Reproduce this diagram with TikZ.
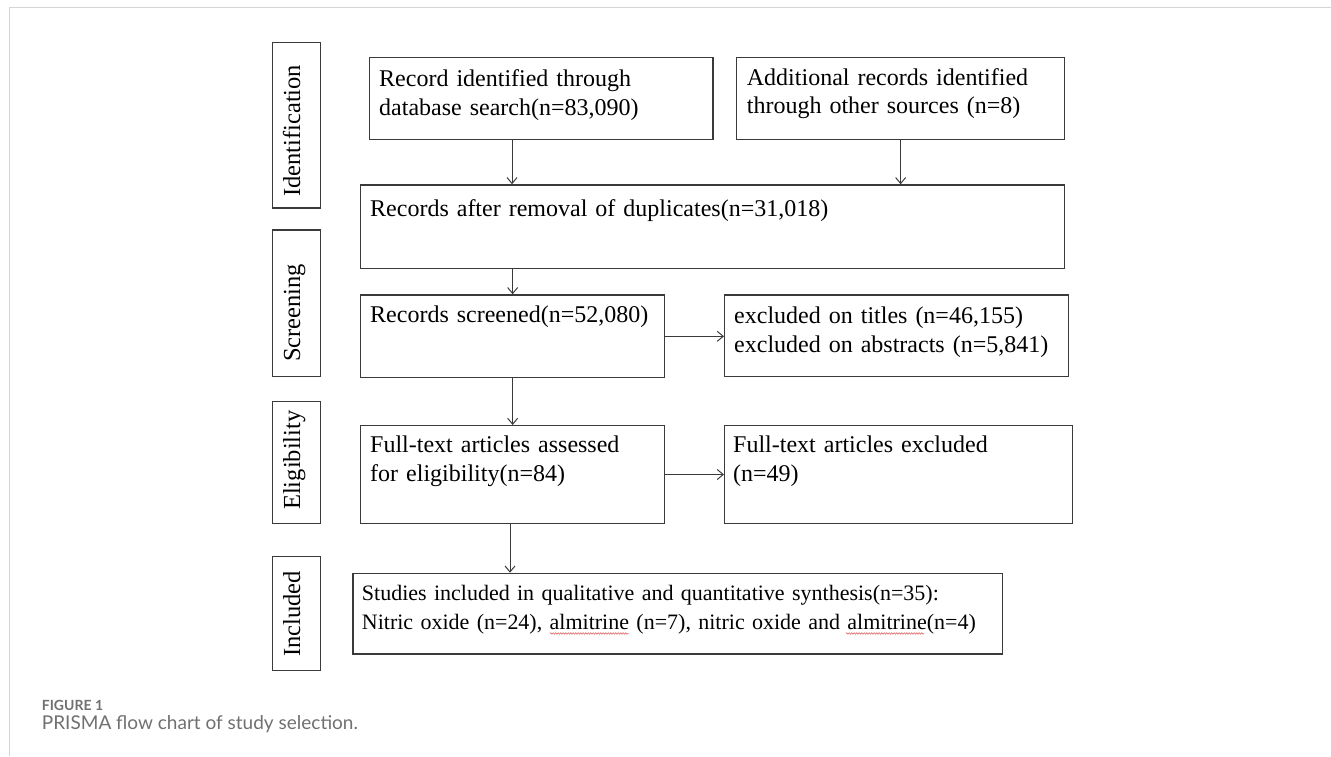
\documentclass[tikz,border=0pt]{standalone}
\usepackage{fontspec}
\setmainfont{Liberation Serif}
\newfontfamily\capfont{Lato}
\usetikzlibrary{arrows.meta,calc,decorations.pathmorphing}
\definecolor{boxline}{HTML}{3A3A3A}
\definecolor{framec}{HTML}{D4D4D4}
\definecolor{capgray}{HTML}{707070}
\definecolor{squig}{HTML}{E05050}
\tikzset{
  box/.style={draw=boxline, line width=1.3pt, rectangle, inner sep=0pt},
  txt/.style={inner sep=0pt, anchor=base west, text width=700pt, align=left,
              font=\fontsize{24}{28.6}\selectfont, text=black},
  stagetxt/.style={inner sep=0pt, anchor=base west, rotate=90,
              font=\fontsize{24.5}{28.6}\selectfont, text=black},
  arr/.style={draw=boxline, line width=1pt, -{Straight Barb[length=6pt,width=10pt]}},
  wave/.style={draw=squig, line width=0.5pt, decorate,
              decoration={snake, amplitude=0.8pt, segment length=2.5pt}},
}
\newcommand\boxat[3]{% name, nw, se
  \path let \p1=#2, \p2=#3 in node[box, anchor=north west,
     minimum width=\x2-\x1, minimum height=\y1-\y2] (#1) at (\p1) {};}
\begin{document}
\begin{tikzpicture}[x=1pt,y=-1pt]
\useasboundingbox (0,0) rectangle (1331,756);
% outer frame
\draw[framec, line width=1.5pt] (9.5,756) -- (9.5,7.5) -- (1331,7.5);

% stage boxes
\boxat{S1}{(272,41.7)}{(320,207.3)}
\boxat{S2}{(272,229.3)}{(320,376)}
\boxat{S3}{(272,400.7)}{(320,523)}
\boxat{S4}{(272,556)}{(320,670)}
\node[stagetxt] (s1) at (300,197) {Identification};
\node[stagetxt] (s2) at (300,362) {Screening};
\node[stagetxt] (s3) at (300,510) {Eligibility};
\node[stagetxt] (s4) at (300,657) {Included};

% flow boxes
\boxat{A}{(369,56.7)}{(712.3,139)}
\boxat{B}{(736,56.7)}{(1064,139)}
\boxat{C}{(360,184.3)}{(1064,267.7)}
\boxat{D}{(360,294.3)}{(664,377)}
\boxat{E}{(724,294.3)}{(1068,376)}
\boxat{F}{(360,425)}{(664,522.7)}
\boxat{G}{(724,425)}{(1071.7,522.7)}
\boxat{H}{(352.3,572.7)}{(1001.7,653.3)}

\node[txt] (tA) at (379,86.7) {Record identified through\\database search(n=83,090)};
\node[txt] (tB) at (746.7,85) {Additional records identified\\through other sources (n=8)};
\node[txt] (tC) at (370,216.3) {Records after removal of duplicates(n=31,018)};
\node[txt] (tD) at (370,322.7) {Records screened(n=52,080)};
\node[txt] (tE) at (734,323.5) {excluded on titles (n=46,155)\\excluded on abstracts (n=5,841)};
\node[txt] (tF) at (370,452.7) {Full-text articles assessed\\for eligibility(n=84)};
\node[txt] (tG) at (733,452.7) {Full-text articles excluded\\(n=49)};
\node[txt, font=\fontsize{22}{28.6}\selectfont] (tH) at (361.7,600.7) {Studies included in qualitative and quantitative synthesis(n=35):\\Nitric oxide (n=24), almitrine (n=7), nitric oxide and almitrine(n=4)};
% spell-check squiggles
\draw[wave] (550,633.5) -- (628.5,633.5);
\draw[wave] (846,633.5) -- (924,633.5);

% connectors
\coordinate (xa) at (512,0);
\draw[arr] (xa |- A.south) -- (xa |- C.north);
\draw[arr] (B.south) -- (B.south |- C.north);
\draw[arr] (D.north |- C.south) -- (D.north);
\draw[arr] (D.east) -- (D.east -| E.west);
\draw[arr] (D.south) -- (F.north);
\draw[arr] (F.east) -- (F.east -| G.west);
\coordinate (xh) at (510,0);
\draw[arr] (xh |- F.south) -- (xh |- H.north);

% caption
\node[inner sep=0pt, anchor=base west, font=\capfont\bfseries\fontsize{14}{16}\selectfont, text=capgray] (cap1) at (41.7,710) {FIGURE 1};
\node[inner sep=0pt, anchor=base west, font=\capfont\fontsize{19}{22}\selectfont, text=capgray] (cap2) at (41.7,729.3) {PRISMA flow chart of study selection.};
\end{tikzpicture}
\end{document}
